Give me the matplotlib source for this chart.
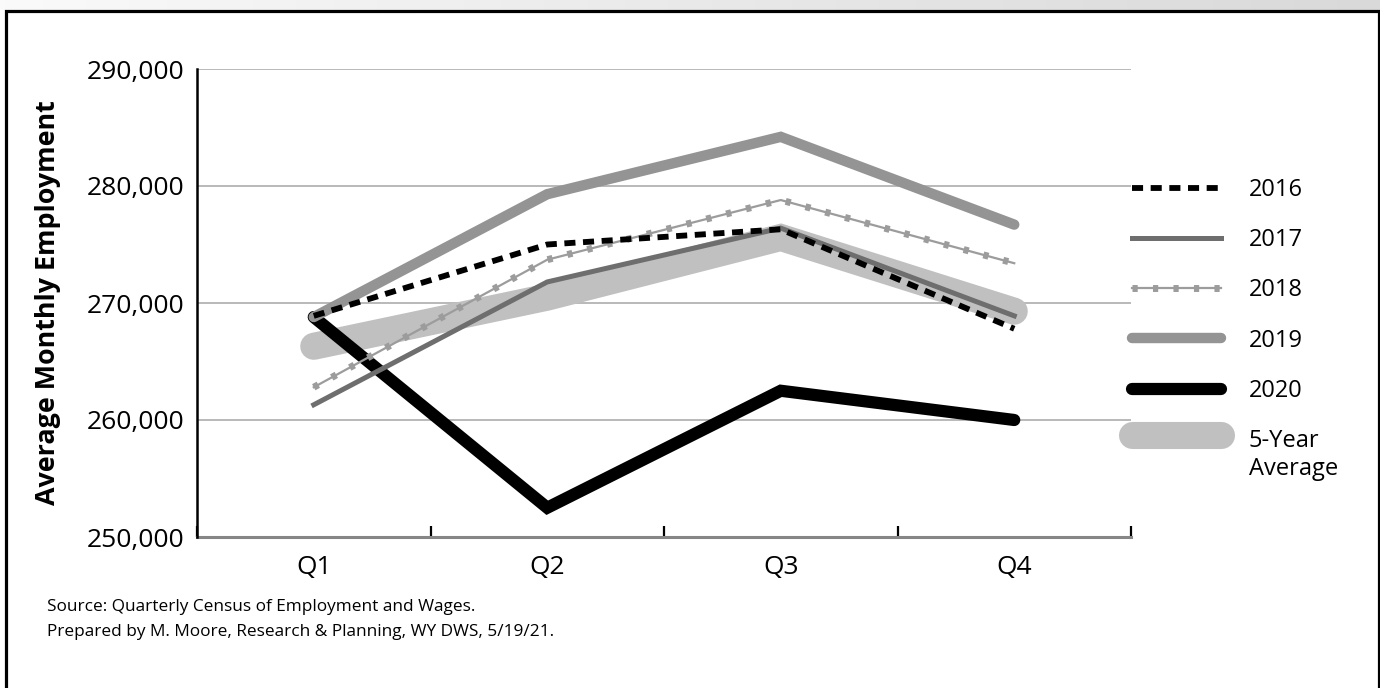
import numpy as np
import matplotlib
matplotlib.use("Agg")
import matplotlib.pyplot as plt
from matplotlib.lines import Line2D
from matplotlib.patches import Rectangle
from matplotlib.legend_handler import HandlerTuple, HandlerLine2D
from matplotlib.ticker import FuncFormatter, FixedLocator

plt.rcParams['font.family'] = ['Open Sans', 'DejaVu Sans']

# Quarterly average monthly employment
quarters = ['Q1', 'Q2', 'Q3', 'Q4']
emp_2016 = [268900, 275000, 276300, 267800]
emp_2017 = [261300, 271800, 276400, 268900]
emp_2018 = [262800, 273700, 278800, 273400]
emp_2019 = [268800, 279300, 284200, 276700]
emp_2020 = [268800, 252500, 262500, 260000]
avg_5yr = [266300, 270500, 275600, 269300]

y_ticks = [250000, 260000, 270000, 280000, 290000]

W, H = 1380, 688
fig = plt.figure(figsize=(W / 100, H / 100), dpi=100)

# header strip with a soft gradient
hdr = fig.add_axes([0, 1 - 10 / H, 1, 10 / H])
grad = np.linspace(0, 1, 256)[None, :]
hdr.imshow(grad, aspect='auto', cmap=matplotlib.colors.LinearSegmentedColormap.from_list(
    'hdr', ['#fafafa', '#d9d9d9']), extent=[0, 1, 0, 1])
hdr.axis('off')

# outer frame
fig.patches.append(Rectangle((5.5 / W, -0.05), (1378.5 - 5.5) / W, (1 - 11 / H) + 0.05,
                             transform=fig.transFigure, fill=False,
                             edgecolor='black', linewidth=2.3))

ax = fig.add_axes([197 / W, 1 - 537 / H, (1131 - 197) / W, (537 - 69) / H])
x = np.arange(len(quarters))

ax.plot(x, avg_5yr, color='#c0c0c0', lw=19.5, solid_capstyle='round',
        solid_joinstyle='miter', zorder=2)
ax.plot(x, emp_2020, color='black', lw=8.8, solid_capstyle='round',
        solid_joinstyle='miter', zorder=3)
ax.plot(x, emp_2019, color='#949494', lw=7.5, solid_capstyle='round',
        solid_joinstyle='miter', zorder=4)
ax.plot(x, emp_2018, color='#9c9c9c', lw=1.6, zorder=5)
ax.plot(x, emp_2018, color='#9c9c9c', lw=5.0, dashes=(0.75, 2.2),
        dash_capstyle='butt', zorder=5)
ax.plot(x, emp_2017, color='#6e6e6e', lw=3.6, solid_joinstyle='miter', zorder=6)
ax.plot(x, emp_2016, color='black', lw=4.2, dashes=(1.9, 1.3),
        dash_capstyle='butt', dash_joinstyle='miter', zorder=7)

ax.set_xlim(-0.5, len(quarters) - 0.5)
ax.set_ylim(y_ticks[0], y_ticks[-1])
ax.set_yticks(y_ticks)
ax.yaxis.set_major_formatter(FuncFormatter(lambda v, p: f'{int(v):,}'))
ax.grid(axis='y', color='#a6a6a6', lw=1.1, zorder=0)
ax.set_axisbelow(True)

ax.set_xticks(x)
ax.set_xticklabels(quarters)
ax.xaxis.set_minor_locator(FixedLocator(np.arange(-0.5, len(quarters), 1.0)))
ax.tick_params(axis='x', which='major', length=0, pad=13, labelsize=19)
ax.tick_params(axis='x', which='minor', direction='in', length=8, width=1.6,
               color='black')
ax.tick_params(axis='y', length=0, pad=9, labelsize=19)

for s in ['top', 'right']:
    ax.spines[s].set_visible(False)
ax.spines['left'].set_color('black')
ax.spines['left'].set_linewidth(1.8)
ax.spines['bottom'].set_color('#868686')
ax.spines['bottom'].set_linewidth(2.2)
ax.spines['bottom'].set_zorder(1)

ax.set_ylabel('Average Monthly Employment', fontsize=19.4, fontweight='bold')
ax.yaxis.set_label_coords(-136 / (1131 - 197), 0.501)


class RaisedLine(HandlerLine2D):
    """Line handle drawn a little above the centre of a two-line label."""
    def __init__(self, raise_pt, **kw):
        super().__init__(**kw)
        self.raise_pt = raise_pt

    def create_artists(self, legend, orig_handle, xdescent, ydescent,
                       width, height, fontsize, trans):
        return super().create_artists(legend, orig_handle, xdescent,
                                      ydescent - 2 * self.raise_pt,
                                      width, height, fontsize, trans)


h_avg = Line2D([], [], color='#c0c0c0', lw=19.5, solid_capstyle='round')
handles = [
    Line2D([], [], color='black', lw=4.2, dashes=(1.9, 1.3), dash_capstyle='butt'),
    Line2D([], [], color='#6e6e6e', lw=3.6),
    (Line2D([], [], color='#9c9c9c', lw=1.6),
     Line2D([], [], color='#9c9c9c', lw=5.0, dashes=(0.75, 2.2), dash_capstyle='butt')),
    Line2D([], [], color='#949494', lw=7.5, solid_capstyle='round'),
    Line2D([], [], color='black', lw=8.8, solid_capstyle='round'),
    h_avg,
]
labels = ['2016', '2017', '2018', '2019', '2020', '5-Year\nAverage']
fig.legend(handles, labels, loc='upper left', bbox_to_anchor=(1132 / W, 1 - 178 / H),
           frameon=False, fontsize=17, handlelength=3.75, handletextpad=1.2,
           labelspacing=1.11, borderpad=0, borderaxespad=0,
           handler_map={tuple: HandlerTuple(ndivide=1, pad=0),
                        h_avg: RaisedLine(15)})

fig.text(47 / W, 1 - 607 / H, 'Source: Quarterly Census of Employment and Wages.',
         fontsize=12.4, va='center', ha='left')
fig.text(47 / W, 1 - 632 / H, 'Prepared by M. Moore, Research & Planning, WY DWS, 5/19/21.',
         fontsize=12.4, va='center', ha='left')

fig.savefig('out.png', dpi=100)
